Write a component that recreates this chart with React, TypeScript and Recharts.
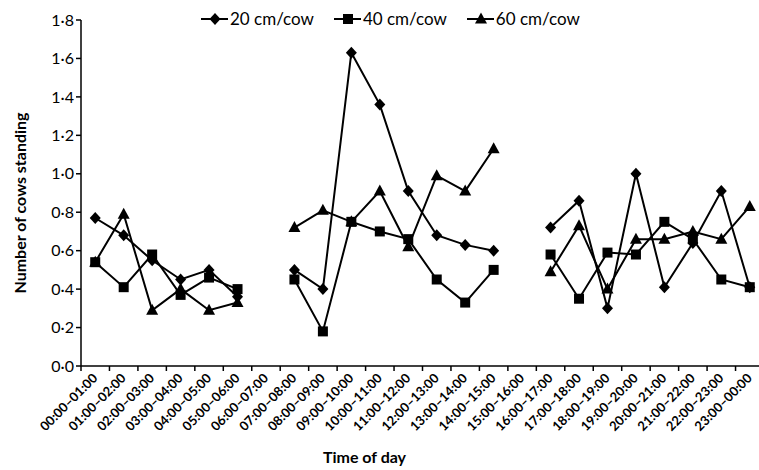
import { LineChart, Line, XAxis, YAxis } from "recharts";

const timeSlots = [
  "00:00–01:00", "01:00–02:00", "02:00–03:00", "03:00–04:00", "04:00–05:00", "05:00–06:00",
  "06:00–07:00", "07:00–08:00", "08:00–09:00", "09:00–10:00", "10:00–11:00", "11:00–12:00",
  "12:00–13:00", "13:00–14:00", "14:00–15:00", "15:00–16:00", "16:00–17:00", "17:00–18:00",
  "18:00–19:00", "19:00–20:00", "20:00–21:00", "21:00–22:00", "22:00–23:00", "23:00–00:00",
];

const cow20 = [0.77, 0.68, 0.55, 0.45, 0.5, 0.36, null, 0.5, 0.4, 1.63, 1.36, 0.91, 0.68, 0.63, 0.6, null, 0.72, 0.86, 0.3, 1.0, 0.41, 0.64, 0.91, 0.41];
const cow40 = [0.54, 0.41, 0.58, 0.37, 0.46, 0.4, null, 0.45, 0.18, 0.75, 0.7, 0.66, 0.45, 0.33, 0.5, null, 0.58, 0.35, 0.59, 0.58, 0.75, 0.66, 0.45, 0.41];
const cow60 = [0.54, 0.79, 0.29, 0.4, 0.29, 0.33, null, 0.72, 0.81, 0.75, 0.91, 0.62, 0.99, 0.91, 1.13, null, 0.49, 0.73, 0.4, 0.66, 0.66, 0.7, 0.66, 0.83];

const yTicks = [0, 0.2, 0.4, 0.6, 0.8, 1.0, 1.2, 1.4, 1.6, 1.8];

const data = timeSlots.map((t, i) => ({ t, a: cow20[i], b: cow40[i], c: cow60[i] }));

const FONT = "Lato, 'Open Sans', sans-serif";

function Marker({ kind, cx, cy }: { kind: string; cx: number; cy: number }) {
  if (kind === "diamond") {
    return <polygon points={`${cx},${cy - 6} ${cx + 5.5},${cy} ${cx},${cy + 6} ${cx - 5.5},${cy}`} fill="#000" />;
  }
  if (kind === "square") {
    return <rect x={cx - 5} y={cy - 5} width={10} height={10} fill="#000" />;
  }
  return <polygon points={`${cx},${cy - 6.5} ${cx + 6},${cy + 4.5} ${cx - 6},${cy + 4.5}`} fill="#000" />;
}

const makeDot = (kind: string) => (props: any) => {
  const { cx, cy, index, value } = props;
  if (cx == null || cy == null || value == null) return <g key={`${kind}-${index}`} />;
  return <Marker key={`${kind}-${index}`} kind={kind} cx={cx} cy={cy} />;
};

function XTick(props: any) {
  const { x, y, payload, index, width, visibleTicksCount } = props;
  const n = visibleTicksCount || timeSlots.length;
  const half = (width || 683) / n / 2;
  return (
    <g>
      <line x1={x - half} y1={y - 8} x2={x - half} y2={y - 3} stroke="#000" strokeWidth={1.5} />
      {index === n - 1 && (
        <line x1={x + half} y1={y - 8} x2={x + half} y2={y - 3} stroke="#000" strokeWidth={1.5} />
      )}
      <text
        x={x + 3}
        y={y + 5}
        transform={`rotate(-45, ${x + 3}, ${y + 5})`}
        textAnchor="end"
        fontSize={13}
        fontWeight={700}
        fontFamily={FONT}
        fill="#000"
      >
        {payload.value}
      </text>
    </g>
  );
}

const legendItems = [
  { kind: "diamond", label: "20 cm/cow" },
  { kind: "square", label: "40 cm/cow" },
  { kind: "triangle", label: "60 cm/cow" },
];

function LegendRow() {
  return (
    <div
      style={{
        position: "absolute",
        top: 8,
        left: 201,
        display: "flex",
        gap: 20,
        fontFamily: FONT,
        fontSize: 17,
        lineHeight: "22px",
        color: "#000",
      }}
    >
      {legendItems.map((it) => (
        <div key={it.kind} style={{ display: "flex", alignItems: "center" }}>
          <svg width={27} height={16}>
            <line x1={0} y1={8} x2={27} y2={8} stroke="#000" strokeWidth={2} />
            <Marker kind={it.kind} cx={14} cy={8} />
          </svg>
          <span style={{ marginLeft: 2 }}>{it.label}</span>
        </div>
      ))}
    </div>
  );
}

export default function App() {
  return (
    <div
      style={{
        position: "absolute",
        left: 0,
        top: 0,
        width: 759,
        height: 470,
        overflow: "hidden",
        background: "#fff",
      }}
    >
      <LineChart width={764} height={470} data={data} margin={{ top: 20, right: 0, left: 0, bottom: 0 }}>
        <XAxis
          dataKey="t"
          scale="band"
          interval={0}
          height={104}
          tickLine={false}
          axisLine={{ stroke: "#000", strokeWidth: 1.5 }}
          tick={<XTick />}
          label={{
            value: "Time of day",
            position: "insideBottom",
            offset: 7,
            dx: -58,
            fontSize: 16,
            fontWeight: 700,
            fontFamily: FONT,
            fill: "#000",
          }}
        />
        <YAxis
          domain={[0, 1.8]}
          ticks={yTicks}
          width={81}
          interval={0}
          axisLine={{ stroke: "#000", strokeWidth: 1.5 }}
          tickLine={{ stroke: "#000", strokeWidth: 1.5 }}
          tickSize={5}
          tick={{ fontSize: 16, fontFamily: FONT, fill: "#000" }}
          tickFormatter={(v: number) => v.toFixed(1).replace(".", "·")}
          label={{
            value: "Number of cows standing",
            angle: -90,
            position: "insideLeft",
            offset: 20,
            dy: 10,
            style: { textAnchor: "middle" },
            fontSize: 16,
            fontWeight: 700,
            fontFamily: FONT,
            fill: "#000",
          }}
        />
        <Line dataKey="a" stroke="#000" strokeWidth={2} dot={makeDot("diamond")} activeDot={false} isAnimationActive={false} />
        <Line dataKey="b" stroke="#000" strokeWidth={2} dot={makeDot("square")} activeDot={false} isAnimationActive={false} />
        <Line dataKey="c" stroke="#000" strokeWidth={2} dot={makeDot("triangle")} activeDot={false} isAnimationActive={false} />
      </LineChart>
      <LegendRow />
    </div>
  );
}
